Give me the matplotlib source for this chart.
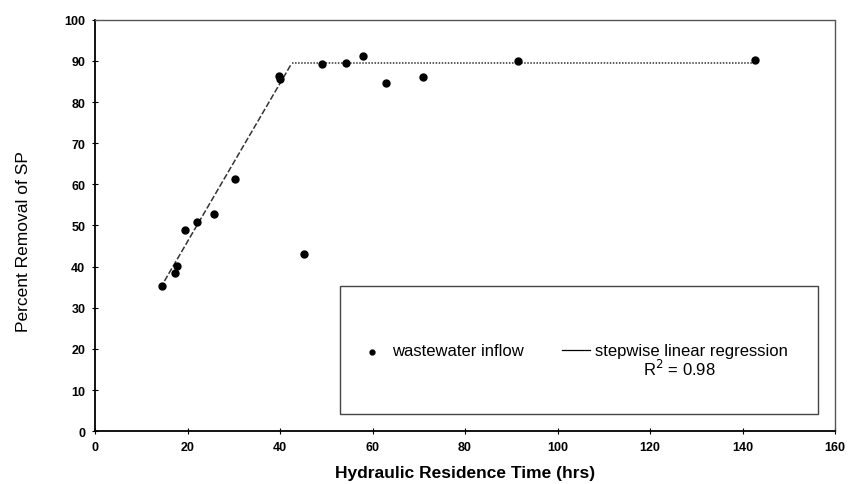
import numpy as np
import matplotlib
matplotlib.use('Agg')
import matplotlib.pyplot as plt
from matplotlib.patches import Rectangle

plt.rcParams['font.family'] = ['Liberation Sans', 'DejaVu Sans']

# observed removal vs hydraulic residence time
hrt = [14.5, 17.2, 17.7, 19.4, 22.1, 25.7, 30.2, 39.7, 40.0, 45.1,
       49.0, 54.2, 57.9, 62.9, 70.9, 91.5, 142.8]
removal = [35.4, 38.5, 40.1, 48.9, 50.8, 52.7, 61.2, 86.4, 85.7, 43.0,
           89.2, 89.4, 91.1, 84.6, 86.0, 89.9, 90.3]

# stepwise linear regression (rising part, then plateau)
fit_rise_x = [15.0, 42.5]
fit_rise_y = [36.5, 89.4]
fit_flat_x = [42.5, 142.0]
fit_flat_y = [89.4, 89.4]

fig = plt.figure(figsize=(8.49, 4.85), dpi=100)
ax = fig.add_axes([0.112, 0.109, 0.8715, 0.848])

ax.plot(fit_rise_x, fit_rise_y, color='#333333', lw=1.1, ls=(0, (4, 1.5)))
ax.plot(fit_flat_x, fit_flat_y, color='#333333', lw=1.1, ls=(0, (1, 1)))
ax.plot(hrt, removal, 'o', color='black', ms=5, ls='none')

ax.set_xlim(0, 160)
ax.set_ylim(0, 100)
ax.set_xticks(np.arange(0, 161, 20))
ax.set_yticks(np.arange(0, 101, 10))
ax.tick_params(direction='inout', length=4, width=0.8, labelsize=9, pad=5)
for lab in ax.get_xticklabels() + ax.get_yticklabels():
    lab.set_fontweight('bold')

for s in ['left', 'bottom']:
    ax.spines[s].set_linewidth(1.3)
for s in ['top', 'right']:
    ax.spines[s].set_linestyle((0, (1, 1)))
    ax.spines[s].set_color('#555555')
    ax.spines[s].set_linewidth(1.0)

ax.set_xlabel('Hydraulic Residence Time (hrs)', fontsize=12.5, fontweight='bold', labelpad=9)
ax.set_ylabel('Percent Removal of SP', fontsize=12.5)
ax.yaxis.set_label_coords(-0.087, 0.464)

# legend box
ax.add_patch(Rectangle((0.331, 0.041), 0.646, 0.312, transform=ax.transAxes,
                       fill=False, ec='#444444', lw=1.0))
ax.plot([0.374], [0.192], 'o', color='black', ms=3.5, transform=ax.transAxes)
ax.text(0.401, 0.197, 'wastewater inflow', transform=ax.transAxes,
        fontsize=12, va='center', ha='left')
ax.plot([0.631, 0.669], [0.197, 0.197], color='black', lw=0.9, transform=ax.transAxes)
ax.text(0.676, 0.197, 'stepwise linear regression', transform=ax.transAxes,
        fontsize=12, va='center', ha='left')
ax.text(0.79, 0.153, 'R$^2$ = 0.98', transform=ax.transAxes,
        fontsize=12, va='center', ha='center')

fig.savefig('out.png', dpi=100)
